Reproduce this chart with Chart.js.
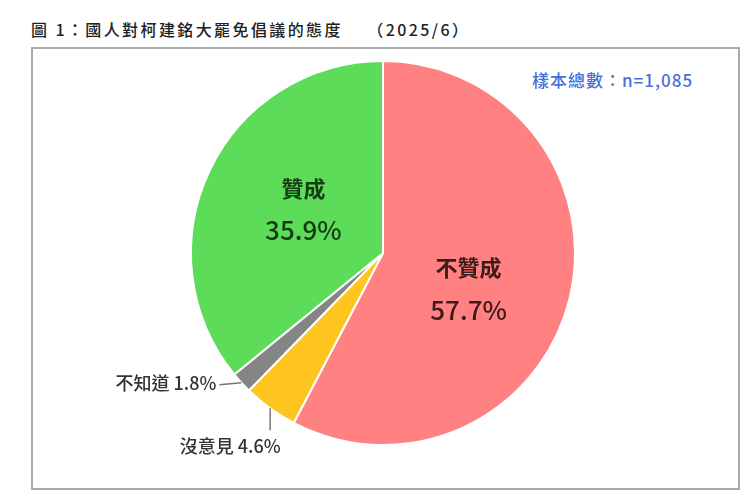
<!DOCTYPE html>
<html>
<head>
<meta charset="utf-8">
<script src="https://cdn.jsdelivr.net/npm/chart.js@4/dist/chart.umd.min.js"></script>
<style>
  html, body { margin: 0; padding: 0; background: #fff; }
  #wrap { position: relative; width: 748px; height: 498px; overflow: hidden; }
  #title { position: absolute; left: 31px; top: 17px; font: 500 16px "Noto Sans CJK TC", serif; color: #222; white-space: pre; letter-spacing: 2.4px; }
  #box { position: absolute; left: 31px; top: 47px; width: 705px; height: 439px; border: 2px solid #aaa; }
  #sample { position: absolute; left: 532px; top: 67px; font: 500 17px "Noto Sans CJK TC", sans-serif; color: #4a6fd8; letter-spacing: 1px; white-space: pre; }
  canvas { position: absolute; left: 0; top: 0; }
</style>
</head>
<body>
<div id="wrap">
  <div id="title">圖 1：國人對柯建銘大罷免倡議的態度　 （2025/6）</div>
  <div id="box"></div>
  <div id="sample">樣本總數：n=1,085</div>
  <canvas id="myPieChart" width="748" height="498"></canvas>
</div>
<script>
// dữ liệu
var categories = ['不贊成', '沒意見', '不知道', '贊成'];
var percents = [57.7, 4.6, 1.8, 35.9];
var sliceColors = ['#ff8181', '#ffc51f', '#858585', '#5ddc5a'];

// kiểu nhãn từng lát: trong lát hay ngoài (có đường dẫn)
var labelStyle = [
    { inside: true, rf: 0.483, da: 8.8, color: '#3d1a1c' },
    { inside: false, line: [[0, 22]], text: [-40, 38], align: 'center' },
    { inside: false, line: [[-22, 2]], text: [-25, 0], align: 'right' },
    { inside: true, rf: 0.473, da: 3.4, color: '#143d14' }
];

var pieLabels = {
    id: 'pieLabels',
    afterDatasetsDraw(chart) {
        var ctx = chart.ctx;
        var arcs = chart.getDatasetMeta(0).data;
        arcs.forEach(function (arc, i) {
            var st = labelStyle[i];
            var mid = (arc.startAngle + arc.endAngle) / 2;
            var txt = percents[i].toFixed(1) + '%';
            ctx.save();
            if (st.inside) {
                var a = mid + st.da * Math.PI / 180;
                var r = arc.outerRadius * st.rf;
                var cx = arc.x + Math.cos(a) * r;
                var cy = arc.y + Math.sin(a) * r;
                ctx.fillStyle = st.color;
                ctx.textAlign = 'center';
                ctx.textBaseline = 'middle';
                ctx.font = 'bold 22px "Noto Sans CJK TC"';
                ctx.fillText(categories[i], cx, cy - 21);
                ctx.font = '500 26px "Noto Sans CJK TC"';
                ctx.fillText(txt, cx, cy + 21);
            } else {
                var ex = arc.x + Math.cos(mid) * arc.outerRadius;
                var ey = arc.y + Math.sin(mid) * arc.outerRadius;
                ctx.strokeStyle = '#777';
                ctx.lineWidth = 1.5;
                ctx.beginPath();
                ctx.moveTo(ex, ey);
                var lx = ex, ly = ey;
                st.line.forEach(function (p) {
                    lx += p[0]; ly += p[1];
                    ctx.lineTo(lx, ly);
                });
                ctx.stroke();
                ctx.fillStyle = '#333';
                ctx.textAlign = st.align;
                ctx.textBaseline = 'middle';
                ctx.font = '500 18px "Noto Sans CJK TC"';
                ctx.fillText(categories[i] + ' ' + txt, ex + st.text[0], ey + st.text[1]);
            }
            ctx.restore();
        });
    }
};

var attitudeChart = {
    type: 'pie',
    data: {
        labels: categories,
        datasets: [
            {
                data: percents,
                backgroundColor: sliceColors,
                borderColor: '#ffffff',
                borderWidth: 2,
            }
        ],
    },
    options: {
        responsive: false,
        animation: false,
        layout: { padding: { left: 190, right: 172, top: 60, bottom: 52 } },
        plugins: { legend: { display: false }, tooltip: { enabled: false } },
    },
    plugins: [pieLabels],
};

new Chart(document.getElementById('myPieChart'), attitudeChart);
</script>
</body>
</html>
